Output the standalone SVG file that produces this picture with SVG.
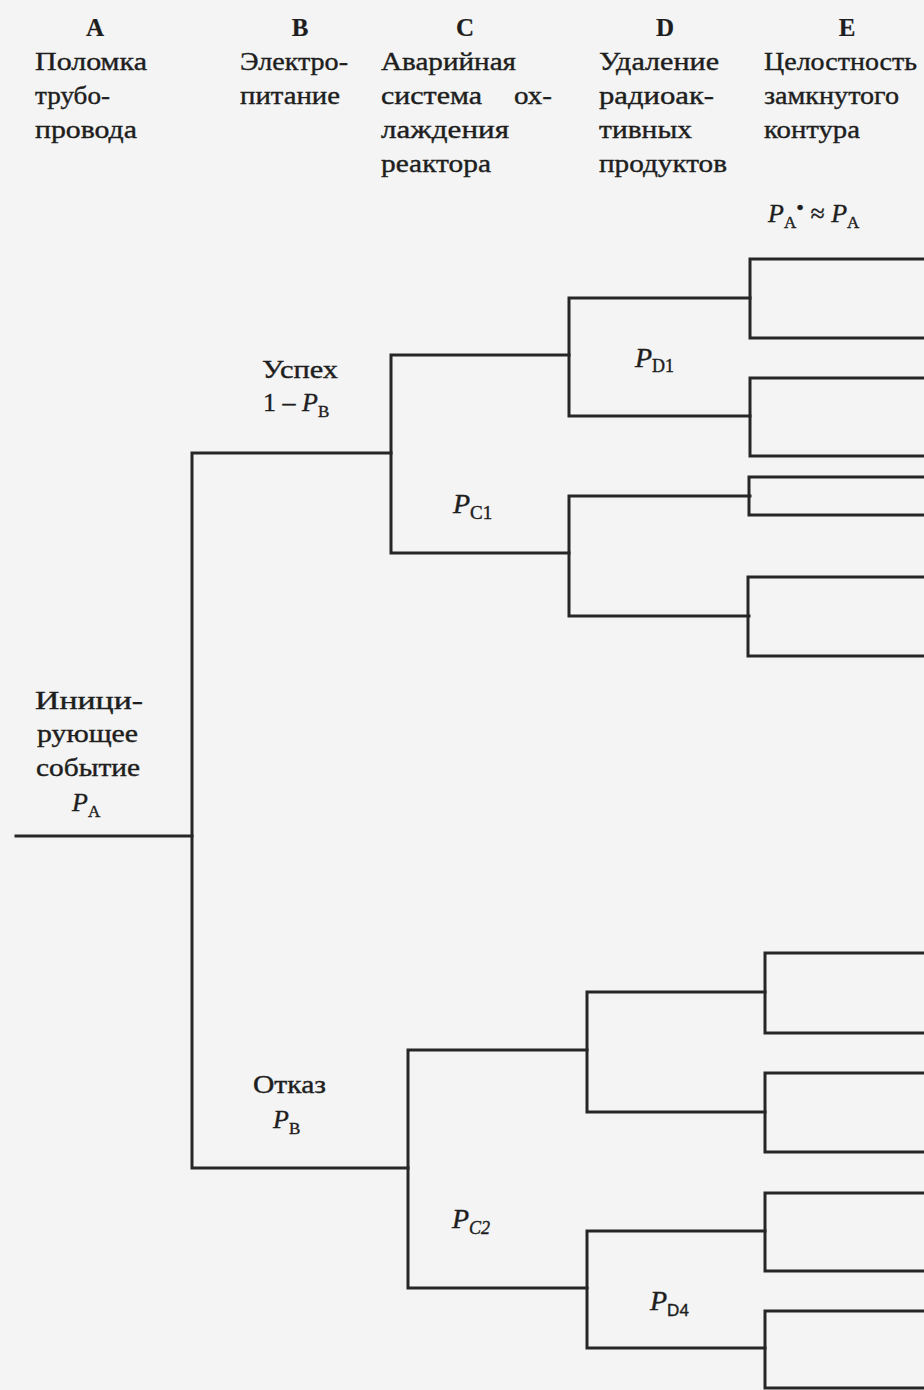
<svg xmlns="http://www.w3.org/2000/svg" width="924" height="1390" viewBox="0 0 924 1390">
<style>
text{font-family:"Liberation Serif","Times New Roman",serif;fill:#1e1e1e;font-size:26px;stroke:#1e1e1e;stroke-width:0.4}
.h{font-weight:bold;text-anchor:middle;font-size:25px;stroke-width:0.2}
.i{font-style:italic}
.s{font-size:17px}
.ln{fill:none;stroke:#262626;stroke-width:3;stroke-linecap:square;stroke-linejoin:miter}
</style>
<rect width="924" height="1390" fill="#f4f4f4"/>
<g id="col-A">
<text class="h" x="95" y="36">A</text>
<text x="35" y="70" textLength="112" lengthAdjust="spacingAndGlyphs">Поломка</text>
<text x="35" y="104" textLength="75" lengthAdjust="spacingAndGlyphs">трубо-</text>
<text x="35" y="138" textLength="102" lengthAdjust="spacingAndGlyphs">провода</text>
</g>
<g id="col-B">
<text class="h" x="300" y="36">B</text>
<text x="240" y="70" textLength="108" lengthAdjust="spacingAndGlyphs">Электро-</text>
<text x="240" y="104" textLength="100" lengthAdjust="spacingAndGlyphs">питание</text>
</g>
<g id="col-C">
<text class="h" x="465" y="36">C</text>
<text x="381" y="70" textLength="135" lengthAdjust="spacingAndGlyphs">Аварийная</text>
<text x="381" y="104" textLength="101" lengthAdjust="spacingAndGlyphs">система</text>
<text x="514" y="104" textLength="38" lengthAdjust="spacingAndGlyphs">ох-</text>
<text x="381" y="138" textLength="128" lengthAdjust="spacingAndGlyphs">лаждения</text>
<text x="381" y="172" textLength="110" lengthAdjust="spacingAndGlyphs">реактора</text>
</g>
<g id="col-D">
<text class="h" x="665" y="36">D</text>
<text x="599" y="70" textLength="120" lengthAdjust="spacingAndGlyphs">Удаление</text>
<text x="599" y="104" textLength="115" lengthAdjust="spacingAndGlyphs">радиоак-</text>
<text x="599" y="138" textLength="93" lengthAdjust="spacingAndGlyphs">тивных</text>
<text x="599" y="172" textLength="128" lengthAdjust="spacingAndGlyphs">продуктов</text>
</g>
<g id="col-E">
<text class="h" x="847" y="36">E</text>
<text x="764" y="70" textLength="153" lengthAdjust="spacingAndGlyphs">Целостность</text>
<text x="764" y="104" textLength="135" lengthAdjust="spacingAndGlyphs">замкнутого</text>
<text x="764" y="138" textLength="96" lengthAdjust="spacingAndGlyphs">контура</text>
<text x="768" y="222"><tspan class="i">P</tspan><tspan class="s" dy="6">A</tspan><tspan dy="-13" font-size="22">•</tspan><tspan dy="7"> ≈ </tspan><tspan class="i">P</tspan><tspan class="s" dy="6">A</tspan></text>
</g>
<g id="node-initial">
<text x="35" y="709" textLength="108" lengthAdjust="spacingAndGlyphs">Иници-</text>
<text x="37" y="742" textLength="101" lengthAdjust="spacingAndGlyphs">рующее</text>
<text x="36" y="776" textLength="104" lengthAdjust="spacingAndGlyphs">событие</text>
<text x="72" y="811"><tspan class="i">P</tspan><tspan class="s" dy="6">A</tspan></text>
</g>
<g id="node-B-success">
<text x="262" y="378" textLength="76" lengthAdjust="spacingAndGlyphs">Успех</text>
<text x="263" y="411">1 – <tspan class="i">P</tspan><tspan class="s" dy="6">B</tspan></text>
</g>
<g id="node-B-failure">
<text x="253" y="1093" textLength="73" lengthAdjust="spacingAndGlyphs">Отказ</text>
<text x="273" y="1128"><tspan class="i">P</tspan><tspan class="s" dy="6">B</tspan></text>
</g>
<g id="node-C1">
<text x="453" y="513"><tspan class="i" font-size="28">P</tspan><tspan font-size="19" dy="6">C1</tspan></text>
</g>
<g id="node-C2">
<text x="452" y="1228"><tspan class="i" font-size="28">P</tspan><tspan class="i" font-size="18" dy="6">C2</tspan></text>
</g>
<g id="node-D1">
<text x="635" y="367"><tspan class="i" font-size="28">P</tspan><tspan font-size="18" dy="5">D1</tspan></text>
</g>
<g id="node-D4">
<text x="650" y="1310"><tspan class="i" font-size="28">P</tspan><tspan font-size="17" dy="6" font-family="Liberation Sans, sans-serif">D4</tspan></text>
</g>
<g id="connectors" class="ln">
<path d="M16,836 H192"/>
<path d="M391,453 H192 V1168 H408"/>
<path d="M569,355 H391 V553 H569"/>
<path d="M750,298 H569 V416 H750"/>
<path d="M750,496 H569 V616 H749"/>
<path d="M924,259 H750 V338 H924"/>
<path d="M924,378 H750 V456 H924"/>
<path d="M924,477 H749 V515 H924"/>
<path d="M924,577 H748 V656 H924"/>
<path d="M587,1050 H408 V1288 H587"/>
<path d="M765,992 H587 V1112 H765"/>
<path d="M765,1231 H587 V1348 H765"/>
<path d="M924,953 H765 V1033 H924"/>
<path d="M924,1073 H765 V1152 H924"/>
<path d="M924,1193 H765 V1271 H924"/>
<path d="M924,1311 H765 V1388 H924"/>
</g>
</svg>
